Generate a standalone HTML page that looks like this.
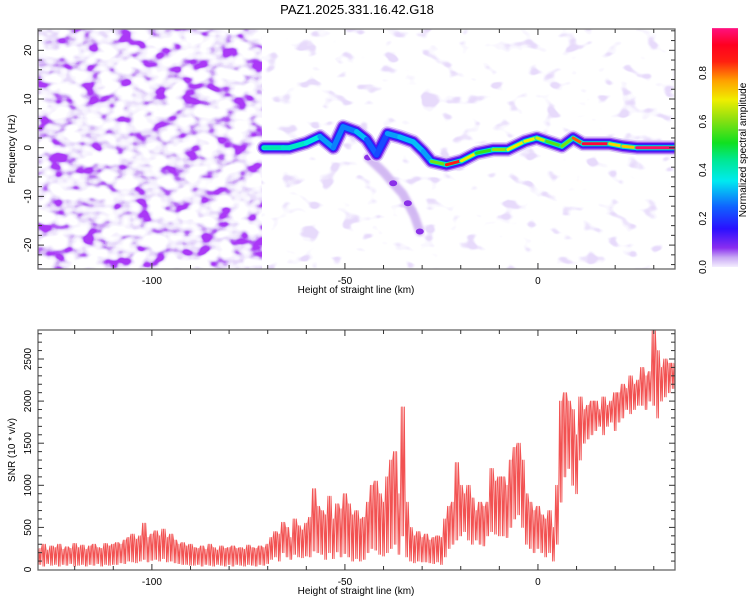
<!DOCTYPE html>
<html><head><meta charset="utf-8">
<style>
html,body{margin:0;padding:0;background:#fff;}
svg{display:block;font-family:"Liberation Sans",sans-serif;}
</style></head>
<body>
<svg id="chart" width="750" height="600" viewBox="0 0 750 600">
<defs>
<filter id="noiseDense" x="0" y="0" width="1" height="1" filterUnits="objectBoundingBox">
<feTurbulence type="fractalNoise" baseFrequency="0.06 0.085" numOctaves="2" seed="7" result="t"/>
<feColorMatrix in="t" type="matrix" values="0 0 0 0 0.88  0 0 0 0 0.83  0 0 0 0 0.98  8 0 0 0 -3.2" result="l1"/>
<feColorMatrix in="t" type="matrix" values="0 0 0 0 0.74  0 0 0 0 0.6  0 0 0 0 0.94  10 0 0 0 -5.0" result="l2"/>
<feColorMatrix in="t" type="matrix" values="0 0 0 0 0.55  0 0 0 0 0.27  0 0 0 0 0.91  12 0 0 0 -6.8" result="l3"/>
<feColorMatrix in="t" type="matrix" values="0 0 0 0 0.4  0 0 0 0 0.04  0 0 0 0 0.92  14 0 0 0 -8.7" result="l4"/>
<feMerge><feMergeNode in="l1"/><feMergeNode in="l2"/><feMergeNode in="l3"/><feMergeNode in="l4"/></feMerge>
</filter>
<filter id="noiseSparse" x="0" y="0" width="1" height="1" filterUnits="objectBoundingBox">
<feTurbulence type="fractalNoise" baseFrequency="0.05 0.075" numOctaves="2" seed="3" result="t"/>
<feColorMatrix in="t" type="matrix" values="0 0 0 0 0.9  0 0 0 0 0.86  0 0 0 0 0.99  10 0 0 0 -6.0" result="l1"/>
<feColorMatrix in="t" type="matrix" values="0 0 0 0 0.8  0 0 0 0 0.7  0 0 0 0 0.96  12 0 0 0 -8.0" result="l2"/>
<feMerge><feMergeNode in="l1"/><feMergeNode in="l2"/></feMerge>
</filter>
<filter id="soft"><feGaussianBlur stdDeviation="1.2"/></filter>
<clipPath id="topClip"><rect x="38" y="29" width="637" height="240"/></clipPath>
<clipPath id="botClip"><rect x="38" y="330" width="637" height="240"/></clipPath>
<linearGradient id="cbGrad" x1="0" y1="1" x2="0" y2="0">
<stop offset="0" stop-color="#f4eeff"/><stop offset="0.04" stop-color="#c8a8f4"/>
<stop offset="0.08" stop-color="#8a2ef0"/><stop offset="0.16" stop-color="#2a10ff"/>
<stop offset="0.25" stop-color="#1060ff"/><stop offset="0.36" stop-color="#00eaf0"/>
<stop offset="0.45" stop-color="#00e890"/><stop offset="0.52" stop-color="#10e020"/>
<stop offset="0.62" stop-color="#90e010"/><stop offset="0.7" stop-color="#f0ee00"/>
<stop offset="0.78" stop-color="#ffa000"/><stop offset="0.86" stop-color="#ff2010"/>
<stop offset="0.93" stop-color="#ff0020"/><stop offset="1" stop-color="#ff1080"/>
</linearGradient>
</defs>
<text x="357" y="14" text-anchor="middle" font-size="13" fill="#000">PAZ1.2025.331.16.42.G18</text>
<g id="topPanel"></g>
<g id="botPanel"></g>
<g id="cbPanel"></g>
</svg>
<script>
// ---- data ----
const trackKm   = [-71,-66,-64.4,-60,-56.5,-53,-50.5,-47,-44.4,-41.8,-39,-35.8,-32.3,-29.7,-27.6,-23.7,-19.8,-15.9,-11.6,-7.8,-3.4,-0.3,2.3,6.2,9.1,11.7,18.6,22,25.6,36];
const trackFreq = [0,0,0,1,2.3,0,4.3,3.3,1.7,-1.4,2.9,2.2,1.2,-0.8,-2.8,-3.5,-2.7,-1.1,-0.4,-0.4,1.3,2.0,1.3,0.3,2.0,0.8,0.8,0.3,0,0];
const trackAmp  = [0.4,0.45,0.35,0.45,0.3,0.3,0.25,0.3,0.35,0.15,0.3,0.3,0.35,0.3,0.3,0.9,0.85,0.55,0.55,0.7,0.7,0.7,0.65,0.5,0.7,0.95,0.95,0.5,0.98,0.98];
const branchKm   = [-44,-40,-37.5,-35,-33.7,-32,-30.6];
const branchFreq = [-2,-5,-7.3,-9.5,-11.4,-14,-17.2];
const xTicks = [-100,-50,0];
const freqTicks = [-20,-10,0,10,20];
const snrTicks = [0,500,1000,1500,2000,2500];
const cbTicks = [0.0,0.2,0.4,0.6,0.8];
const snrStartKm = -129;
const snrHigh = [
250,300,230,280,260,300,240,270,250,310,
260,290,240,280,300,260,250,310,280,300,
320,300,350,380,420,360,400,550,380,420,
460,400,480,380,420,350,300,320,280,300,
260,250,280,240,300,260,230,280,250,260,
280,250,260,240,290,260,250,280,260,300,
380,450,420,560,500,380,600,520,470,550,
620,960,750,700,650,870,600,780,720,900,
780,650,700,600,620,800,1000,1050,900,800,
1100,1300,1400,900,1930,800,500,400,450,380,
420,350,380,400,380,600,750,800,1270,1000,
900,1000,850,700,800,750,800,1200,1050,1100,
1100,1000,1300,1450,1500,1300,900,800,700,750,
650,600,700,500,1000,2000,2100,2000,1900,1600,
2050,1900,1950,2000,2000,1900,2050,1950,2000,2100,
2100,2200,2150,2300,2200,2250,2400,2300,2350,2850,
2600,2400,2500,2450,2450];
const snrLow = [
60,40,70,50,60,40,60,50,70,40,
50,60,40,60,50,70,40,60,50,60,
60,80,70,100,90,80,100,120,90,110,
120,100,130,90,100,80,70,60,60,50,
50,60,40,60,50,40,60,50,40,60,
40,60,50,40,60,50,40,60,50,70,
120,150,100,200,150,120,180,150,140,160,
150,220,200,180,120,200,130,210,150,190,
150,100,130,100,120,200,250,230,180,160,
200,250,300,180,400,150,100,80,100,90,
90,80,70,90,60,150,250,300,350,400,
450,350,300,350,300,280,400,450,420,400,
400,380,500,600,650,500,300,250,200,250,
200,150,200,100,300,800,1100,1200,1000,900,
1300,1500,1550,1600,1650,1700,1600,1700,1750,1650,
1750,1800,1900,1850,1900,1950,1950,1900,2000,1950,
1800,2000,2050,2100,2150];

// ---- scales ----
const X0=38,X1=675, KM0=-129.5, KM1=35.5;
const sx = km => X0 + (km-KM0)/(KM1-KM0)*(X1-X0);
const fy = f => 147.7 - f*4.87;
const sy = v => 569.5 - v*0.0842;
const cy = v => 267 - v*242.5;
const NS="http://www.w3.org/2000/svg";
function mk(tag, attrs, parent){const e=document.createElementNS(NS,tag);for(const k in attrs)e.setAttribute(k,attrs[k]);parent.appendChild(e);return e;}
function cmap(v){
  const s=[[0,[244,238,255]],[0.08,[138,46,240]],[0.16,[42,16,255]],[0.25,[16,96,255]],[0.36,[0,234,240]],[0.45,[0,232,144]],[0.52,[16,224,32]],[0.62,[144,224,16]],[0.7,[240,238,0]],[0.78,[255,160,0]],[0.86,[255,32,16]],[0.93,[255,0,32]],[1,[255,16,128]]];
  for(let i=1;i<s.length;i++){if(v<=s[i][0]){const t=(v-s[i-1][0])/(s[i][0]-s[i-1][0]);const c=s[i-1][1].map((a,j)=>Math.round(a+(s[i][1][j]-a)*t));return `rgb(${c.join(',')})`;}}
  return 'rgb(255,16,128)';
}
const topG=document.getElementById('topPanel'), botG=document.getElementById('botPanel'), cbG=document.getElementById('cbPanel');

// ---- top panel ----
const tg=mk('g',{'clip-path':'url(#topClip)'},topG);
const nd=mk('rect',{x:X0,y:29,width:sx(-71.5)-X0,height:240,filter:'url(#noiseDense)'},tg);


const ns=mk('rect',{x:sx(-71.5),y:29,width:X1-sx(-71.5),height:240,filter:'url(#noiseSparse)'},tg);


const bp=branchKm.map((k,i)=>sx(k)+','+fy(branchFreq[i])).join(' ');
const br=mk('polyline',{points:bp,fill:'none',stroke:'#c8a8f0','stroke-width':9,'stroke-linecap':'round','stroke-linejoin':'round',opacity:0.8,filter:'url(#soft)'},tg);


branchKm.forEach((k,i)=>{if(i%2==0){const d=mk('ellipse',{cx:sx(k),cy:fy(branchFreq[i]),rx:4,ry:3,fill:'#8a30e8'},tg);

}});
const tp=trackKm.map((k,i)=>sx(k)+','+fy(trackFreq[i])).join(' ');
[['#ddccf8',15],['#a060f0',12],['#5a10f0',9.5],['#1830ff',7]].forEach(([c,w])=>{
  const p=mk('polyline',{points:tp,fill:'none',stroke:c,'stroke-width':w,'stroke-linecap':'round','stroke-linejoin':'round'},tg);
  
  
});
for(let i=0;i<trackKm.length-1;i++){
  const a=(trackAmp[i]+trackAmp[i+1])/2;
  const mid=mk('line',{x1:sx(trackKm[i]),y1:fy(trackFreq[i]),x2:sx(trackKm[i+1]),y2:fy(trackFreq[i+1]),stroke:cmap(Math.min(a,0.4)),'stroke-width':5,'stroke-linecap':'round'},tg);
  
  
  const s=mk('line',{x1:sx(trackKm[i]),y1:fy(trackFreq[i]),x2:sx(trackKm[i+1]),y2:fy(trackFreq[i+1]),stroke:cmap(a),'stroke-width':3,'stroke-linecap':'round'},tg);
  
  
}

// ---- bottom panel ----
const bg=mk('g',{'clip-path':'url(#botClip)'},botG);
const pts=[];
for(let i=0;i<snrHigh.length;i++){const k=snrStartKm+i;
  for(let j=0;j<5;j++){const v=(j%2===0)?snrHigh[i]:snrLow[i];pts.push(sx(k-0.5+j*0.2+0.1)+','+sy(v));}
}
const ln=mk('polyline',{points:pts.join(' '),fill:'none',stroke:'#f03434','stroke-width':0.9,'stroke-opacity':0.85,'stroke-linejoin':'round'},bg);



// ---- axes ----
function frame(parent,y0,y1,name){
  const r=mk('rect',{x:X0,y:y0,width:X1-X0,height:y1-y0,fill:'none',stroke:'#666','stroke-width':1.3},parent);
  
  
  for(let k=-120;k<=30;k+=10){const x=sx(k),L=(k%50==0)?6:4;
    mk('line',{x1:x,y1:y1,x2:x,y2:y1-L,stroke:'#333'},parent);mk('line',{x1:x,y1:y0,x2:x,y2:y0+L,stroke:'#333'},parent);}
  xTicks.forEach(k=>{const t=mk('text',{x:sx(k),y:y1+15,'font-size':10,'text-anchor':'middle'},parent);t.textContent=k;
    
    });
  const xl=mk('text',{x:356,y:y1+24,'font-size':10,'text-anchor':'middle'},parent);xl.textContent='Height of straight line (km)';
  
  
}
frame(topG,29,269,'top-plot-frame');
frame(botG,330,570,'bottom-plot-frame');
for(let f=-24;f<=24;f+=2){const y=fy(f),L=(f%10==0)?6:4;mk('line',{x1:X0,y1:y,x2:X0+L,y2:y,stroke:'#333'},topG);mk('line',{x1:X1,y1:y,x2:X1-L,y2:y,stroke:'#333'},topG);}
freqTicks.forEach(f=>{const t=mk('text',{transform:`translate(31,${fy(f)}) rotate(-90)`,'font-size':10,'text-anchor':'middle'},topG);t.textContent=f;
  
  });
const yl=mk('text',{transform:'translate(15,149) rotate(-90)','font-size':10,'text-anchor':'middle'},topG);yl.textContent='Frequency (Hz)';


for(let v=100;v<=2800;v+=100){const y=sy(v),L=(v%500==0)?6:4;mk('line',{x1:X0,y1:y,x2:X0+L,y2:y,stroke:'#333'},botG);mk('line',{x1:X1,y1:y,x2:X1-L,y2:y,stroke:'#333'},botG);}
snrTicks.forEach(v=>{const t=mk('text',{transform:`translate(31,${sy(v)}) rotate(-90)`,'font-size':10,'text-anchor':'middle'},botG);t.textContent=v;
  
  });
const yl2=mk('text',{transform:'translate(15,450) rotate(-90)','font-size':10,'text-anchor':'middle'},botG);yl2.textContent='SNR (10 * v/v)';



// ---- colorbar ----
const cr=mk('rect',{x:712,y:cy(0.985),width:26,height:cy(0)-cy(0.985),fill:'url(#cbGrad)'},cbG);


cbTicks.forEach(v=>{const t=mk('text',{transform:`translate(706,${cy(v)}) rotate(-90)`,'font-size':10,'text-anchor':'middle'},cbG);t.textContent=v.toFixed(1);
  
  });
const ct=mk('text',{transform:'translate(746,150) rotate(-90)','font-size':10,'text-anchor':'middle'},cbG);ct.textContent='Normalized spectral amplitude';


</script>
</body></html>
